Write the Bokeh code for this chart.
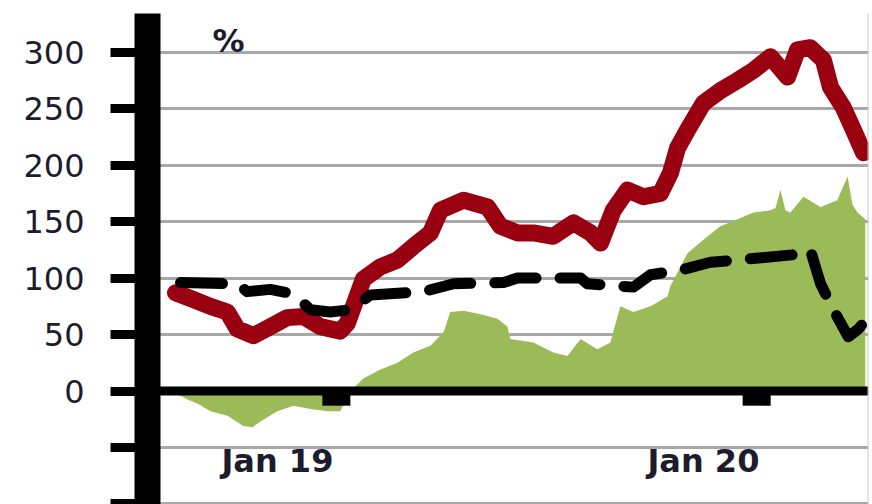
from bokeh.plotting import figure
from bokeh.models import Span, Label, Range1d, FixedTicker
from bokeh.core.properties import value
from bokeh.embed import file_html
from bokeh.resources import INLINE

# months since Jan 2019
months_red = [-2.87, -2.37, -1.89, -1.41, -1.13, -0.68, -0.20, 0.28, 0.73, 1.21,
              1.77, 1.97, 2.2, 2.42, 2.90, 3.38, 3.83, 4.31, 4.59, 5.24,
              5.92, 6.28, 6.76, 7.21, 7.77, 8.34, 8.82, 9.10, 9.46, 9.86,
              10.31, 10.79, 11.07, 11.27, 11.55, 12.00, 12.48, 12.96, 13.41, 13.89,
              14.37, 14.65, 15.01, 15.38, 15.58, 15.94, 16.23, 16.51, 16.65]
red = [87, 81, 75, 70, 55, 49, 57, 65, 66, 57,
       53, 60, 80, 99, 110, 116, 128, 140, 160, 169,
       163, 146, 140, 140, 137, 149, 140, 131, 160, 178,
       172, 175, 193, 215, 231, 255, 266, 275, 284, 296,
       278, 302, 304, 293, 269, 251, 231, 211, 213]

months_black = [-2.73, -1.13, -0.85, -0.20, 0.45, 0.93, 1.49, 2.06, 2.62, 4.11,
                4.96, 6.37, 6.76, 8.54, 8.73, 10.03, 10.51, 11.35, 12.20, 12.96,
                14.65, 15.01, 15.30, 15.66, 16.08, 16.37, 16.65]
black = [96, 95, 88, 90, 86, 72, 70, 72, 85, 88,
         95, 96, 100, 100, 95, 92, 103, 107, 114, 116,
         121, 125, 95, 72, 48, 55, 66]

months_green = [-2.87, -2.5, -2.2, -1.89, -1.41, -0.96, -0.7, -0.48, 0.0, 0.45,
                0.93, 1.41, 1.77, 2.06, 2.42, 2.90, 3.38, 3.83, 4.31, 4.68,
                4.87, 5.24, 5.72, 6.20, 6.48, 6.56, 7.21, 7.77, 8.17, 8.54,
                9.01, 9.38, 9.66, 10.03, 10.51, 10.99, 11.07, 11.27, 11.55, 12.0,
                12.48, 12.96, 13.41, 13.89, 14.03, 14.17, 14.31, 14.45, 14.82, 15.30,
                15.77, 16.06, 16.20, 16.34, 16.56]
green = [-2, -8, -12, -18, -22, -31, -32, -27, -18, -13,
         -16, -18, -18, 0, 11, 19, 25, 34, 40, 52,
         70, 71, 68, 64, 57, 46, 43, 34, 31, 46,
         37, 43, 75, 70, 75, 84, 93, 105, 122, 134,
         146, 152, 158, 160, 162, 178, 160, 158, 172, 163,
         169, 190, 165, 158, 152]

y_ticks = [-100, -50, 0, 50, 100, 150, 200, 250, 300]
x_label_pos = [0, 12]
x_labels = ["Jan 19", "Jan 20"]
x_tick_pos = [1.66, 13.5]
unit_label = "%"

p = figure(width=872, height=504, output_backend="svg", toolbar_location=None,
           x_range=Range1d(-3.66, 16.65), y_range=Range1d(-100.5, 334.3),
           min_border_left=147, min_border_top=13, min_border_bottom=0, min_border_right=4,
           x_axis_location=None)
p.outline_line_color = None
p.background_fill_color = "white"
p.xgrid.visible = False

yax = p.yaxis[0]
yax.ticker = FixedTicker(ticks=y_ticks)
yax.major_label_overrides = {-100: "", -50: ""}
yax.axis_line_color = "black"
yax.axis_line_width = 26
yax.major_tick_line_color = "black"
yax.major_tick_line_width = 9
yax.major_tick_out = 37
yax.major_tick_in = 0
yax.minor_tick_line_color = None
yax.major_label_standoff = 26
yax.major_label_text_font = "DejaVu Sans"
yax.major_label_text_font_size = "32px"
yax.major_label_text_color = "#1c1c2c"

p.ygrid.ticker = FixedTicker(ticks=y_ticks)
p.ygrid.grid_line_color = "#a8a8a8"
p.ygrid.grid_line_width = 3

p.varea(x=months_green, y1=0, y2=green, fill_color="#9bbb59")
p.line(months_red, red, line_color="#990010", line_width=17, line_join="round", line_cap="round")
p.line(months_black, black, line_color="black", line_width=11, line_dash="42 24",
       line_join="round", line_cap="round")

p.add_layout(Span(location=0, dimension="width", line_color="black", line_width=9))

p.segment(x0=x_tick_pos, y0=[0] * len(x_tick_pos), x1=x_tick_pos, y1=[-13] * len(x_tick_pos),
          line_color="black", line_width=28, line_cap="butt")

p.text(x=x_label_pos, y=[-62] * len(x_label_pos), text=x_labels,
       text_font=value("DejaVu Sans"), text_font_style="bold", text_font_size="32px",
       text_align="center", text_baseline="middle", text_color="#1c1c2c")

p.add_layout(Label(x=-1.38, y=310, text=unit_label, text_font="DejaVu Sans",
                   text_font_style="bold", text_font_size="32px", text_align="center",
                   text_baseline="middle", text_color="#1c1c2c"))

p.add_layout(Span(location=16.65, dimension="height", line_color="#c8c8c8", line_width=2))

open("out.html", "w").write(file_html(p, INLINE))
